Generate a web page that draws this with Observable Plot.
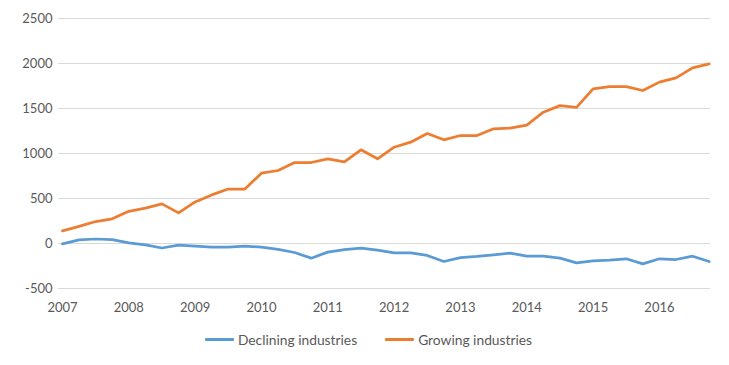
<!DOCTYPE html>
<html>
<head>
<meta charset="utf-8">
<script src="https://cdn.jsdelivr.net/npm/d3@7"></script>
<script src="https://cdn.jsdelivr.net/npm/@observablehq/plot@0.6"></script>
<style>
  html, body { margin: 0; padding: 0; background: #fff; }
  #chart { width: 729px; }
  .legend { display: flex; justify-content: center; align-items: center; gap: 28px;
            font-family: Lato, "Open Sans", sans-serif; font-size: 13.8px; color: #595959;
            height: 45px; padding-left: 8px; box-sizing: border-box; margin-top: -3px; }
  .legend .item { display: flex; align-items: center; gap: 4px; }
  .legend .sw { display: inline-block; width: 29px; height: 3px; border-radius: 1px; }
</style>
</head>
<body>
<div id="chart"></div>
<script>
const years = [2007, 2008, 2009, 2010, 2011, 2012, 2013, 2014, 2015, 2016];
const seriesNames = ["Declining industries", "Growing industries"];
const colors = ["#5B9BD5", "#ED7D31"];
const yTicks = [-500, 0, 500, 1000, 1500, 2000, 2500];

// Quarterly values, 2007 Q1 .. 2016 Q4
const declining = [
  -5, 40, 50, 42,
  8, -15, -50, -18,
  -30, -40, -40, -30,
  -40, -65, -100, -163,
  -96, -67, -52, -74,
  -104, -104, -133, -200,
  -156, -144, -126, -107,
  -141, -141, -163, -215,
  -193, -185, -170, -226,
  -170, -178, -141, -200
];
const growing = [
  140, 190, 244, 274,
  357, 393, 440, 340,
  462, 540, 605, 605,
  781, 811, 900, 900,
  941, 907, 1041, 941,
  1070, 1126, 1222, 1152,
  1200, 1200, 1274, 1283,
  1315, 1459, 1532, 1512,
  1719, 1742, 1744, 1700,
  1793, 1841, 1952, 1996
];

const data = [];
[declining, growing].forEach((vals, s) => {
  vals.forEach((v, i) => {
    data.push({ t: years[0] + Math.floor(i / 4) + (i % 4) / 4, value: v, series: seriesNames[s] });
  });
});

const chart = Plot.plot({
  width: 729,
  height: 320,
  marginLeft: 58,
  marginRight: 19,
  marginTop: 18,
  marginBottom: 32,
  style: { fontFamily: "Lato, 'Open Sans', sans-serif", fontSize: "13px", color: "#595959", background: "#fff" },
  x: { domain: [2006.94, 2016.77] },
  y: { domain: [-500, 2500] },
  color: { domain: seriesNames, range: colors },
  marks: [
    Plot.ruleY(yTicks, { stroke: "#d9d9d9", strokeWidth: 1 }),
    Plot.axisY({ ticks: yTicks, tickSize: 0, tickPadding: 6, label: null, tickFormat: d => String(d) }),
    Plot.axisX({ ticks: years, tickSize: 0, tickPadding: 14, label: null, tickFormat: d => String(d) }),
    Plot.line(data, { x: "t", y: "value", z: "series", stroke: "series", strokeWidth: 2.75, strokeLinejoin: "round", strokeLinecap: "round" })
  ]
});
document.getElementById("chart").appendChild(chart);

const legend = document.createElement("div");
legend.className = "legend";
seriesNames.forEach((name, i) => {
  const item = document.createElement("span");
  item.className = "item";
  const sw = document.createElement("span");
  sw.className = "sw";
  sw.style.background = colors[i];
  const label = document.createElement("span");
  label.textContent = name;
  item.appendChild(sw);
  item.appendChild(label);
  legend.appendChild(item);
});
document.getElementById("chart").appendChild(legend);
</script>
</body>
</html>
